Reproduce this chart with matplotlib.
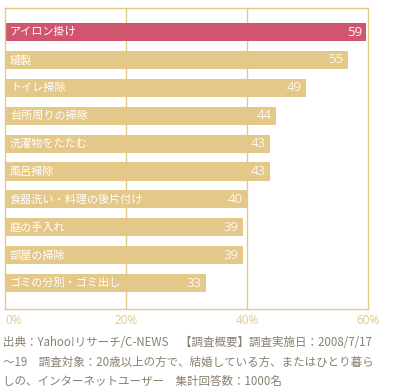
import matplotlib
matplotlib.use("Agg")
import matplotlib.pyplot as plt

plt.rcParams['font.family'] = ['Noto Sans CJK JP', 'DejaVu Sans']

# data
chores = ['アイロン掛け', '縫製', 'トイレ掃除', '台所周りの掃除', '洗濯物をたたむ',
          '風呂掃除', '食器洗い・料理の後片付け', '庭の手入れ', '部屋の掃除', 'ゴミの分別・ゴミ出し']
bar_len = [59.7, 56.7, 49.8, 44.8, 43.8, 43.8, 40.0, 39.3, 39.3, 33.2]
shown = ['59', '55', '49', '44', '43', '43', '40', '39', '39', '33']
xticks = [0, 20, 40, 60]
note_lines = ['出典：Yahoo!リサーチ/C-NEWS　【調査概要】調査実施日：2008/7/17',
              '～19　調査対象：20歳以上の方で、結婚している方、またはひとり暮ら',
              'しの、インターネットユーザー　集計回答数：1000名']

tan = '#E4C88A'
pink = '#D0566F'

fig = plt.figure(figsize=(3.98, 3.91), dpi=100)
ax = fig.add_axes([0.0126, 0.2097, 0.912, 0.7698])

colors = [pink] + [tan] * (len(chores) - 1)
ypos = list(range(len(chores)))
ax.barh(ypos, bar_len, height=0.65, color=colors, zorder=2)

for y, name, v, s in zip(ypos, chores, bar_len, shown):
    ax.text(0.8, y, name, color='white', fontsize=8, va='center', ha='left', zorder=3)
    ax.text(v - 0.7, y, s, color='#FFF8EA', fontsize=9.5, va='center', ha='right',
            family=['Open Sans', 'DejaVu Sans'], zorder=3)

ax.set_xlim(0, 60)
ax.set_ylim(9.93, -0.86)
ax.set_xticks(xticks)
ax.set_xticklabels([])
ax.set_yticks([])
ax.tick_params(length=0)
for x in xticks[1:-1]:
    ax.axvline(x, color=tan, lw=1, zorder=1)
for sp in ax.spines.values():
    sp.set_color(tan)
    sp.set_linewidth(1)

for x in xticks:
    ha = 'left' if x == 0 else 'center'
    ax.text(x, 10.35, f'{x}%', color='#E0C890', fontsize=8.5, ha=ha, va='center',
            family=['Open Sans', 'DejaVu Sans'], clip_on=False)

for i, line in enumerate(note_lines):
    fig.text(3 / 398, 1 - (343 + 19 * i) / 391, line, color='#8A8070', fontsize=8.3,
             va='center', ha='left')

fig.savefig('out.png', dpi=100)
